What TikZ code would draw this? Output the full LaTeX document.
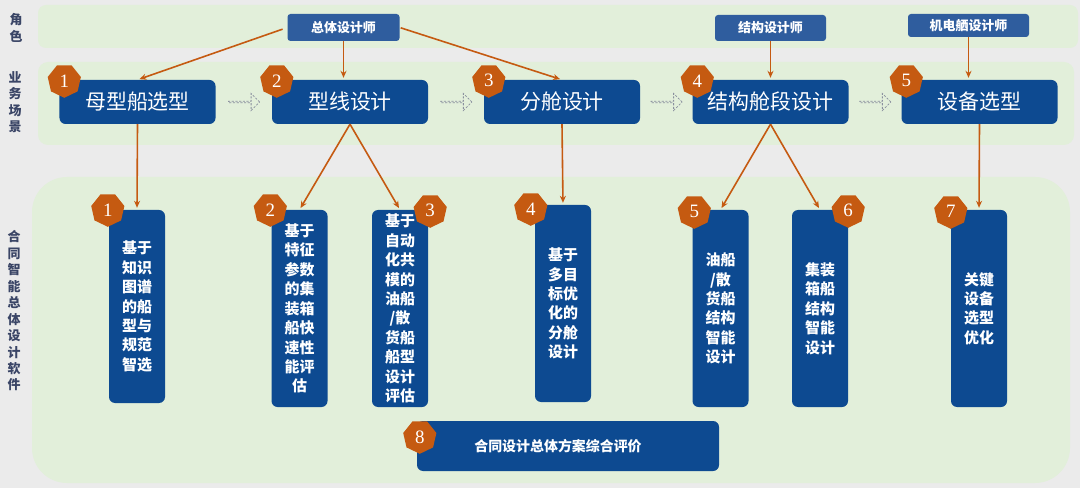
\documentclass[tikz,border=0pt]{standalone}
\usepackage{fontspec}
\newfontfamily\cjk{Noto Sans CJK SC}
\newfontfamily\numfont{Liberation Serif}
\usetikzlibrary{arrows.meta,shapes.geometric,shapes.arrows,calc}
\definecolor{bggray}{HTML}{EBEBEB}
\definecolor{bandgreen}{HTML}{E2EFDA}
\definecolor{boxblue}{HTML}{0D4A91}
\definecolor{roleblue}{HTML}{2F5D9E}
\definecolor{badgeorange}{HTML}{C55A11}
\definecolor{labelslate}{HTML}{3A4566}
\definecolor{dashgray}{HTML}{8A8F9E}
\tikzset{
  rolebox/.style={fill=roleblue, rounded corners=3bp, text=white, inner sep=0pt,
    font=\cjk\bfseries\fontsize{13}{15}\selectfont},
  scenebox/.style={fill=boxblue, rounded corners=6bp, text=white, inner sep=0pt,
    minimum width=156bp, minimum height=44bp, font=\cjk\fontsize{21}{24}\selectfont},
  softbox/.style={fill=boxblue, rounded corners=6bp, text=white, inner sep=0pt,
    minimum width=56bp, align=center, font=\cjk\bfseries\fontsize{15}{19.5}\selectfont},
  badge/.style={regular polygon, regular polygon sides=7, shape border rotate=180,
    fill=badgeorange, text=white, minimum size=34bp, inner sep=0pt,
    font=\numfont\fontsize{19}{19}\selectfont},
  flow/.style={-{Stealth[length=7bp,width=6bp]}, draw=badgeorange, line width=1.6bp,
    shorten >=2bp},
  nextstep/.style={single arrow, draw=dashgray, dash pattern=on 2.2bp off 1.5bp,
    line width=0.8bp, minimum height=31bp, minimum width=17bp,
    single arrow head extend=4bp, inner sep=0pt},
  sidelabel/.style={text=labelslate, align=center,
    font=\cjk\bfseries\fontsize{13}{16.5}\selectfont}
}
\begin{document}
\begin{tikzpicture}[x=1bp,y=-1bp]
    \useasboundingbox (0,0) rectangle (1080,488);
    \fill[bggray] (0,0) rectangle (1080,488);
    % bands
    \fill[bandgreen,rounded corners=8bp] (38,5) rectangle (1078,48);
    \fill[bandgreen,rounded corners=10bp] (38,62) rectangle (1074,145);
    \fill[bandgreen,rounded corners=35bp] (32,177) rectangle (1070,483);
    \node[sidelabel] (lrole) at (16,28) {角\\色};
    \node[sidelabel] (lscene) at (15,102) {业\\务\\场\\景};
    \node[sidelabel] (lsoft) at (14,311) {合\\同\\智\\能\\总\\体\\设\\计\\软\\件};
    % roles
    \node[rolebox,minimum width=112bp,minimum height=27bp] (zt) at (343.5,27.5) {总体设计师};
    \node[rolebox,minimum width=111bp,minimum height=26bp] (js) at (770.5,28) {结构设计师};
    \node[rolebox,minimum width=121bp,minimum height=23bp] (jd) at (968.5,25.5) {机电舾设计师};
    % scenes
    \node[scenebox] (m1) at (137.5,102) {母型船选型};
    \node[scenebox] (m2) at (350,102) {型线设计};
    \node[scenebox] (m3) at (562,102) {分舱设计};
    \node[scenebox] (m4) at (770.5,102) {结构舱段设计};
    \node[scenebox] (m5) at (979.5,102) {设备选型};
    \foreach \a/\b [count=\i] in {m1/m2,m2/m3,m3/m4,m4/m5}
        \node[nextstep] (n\i) at ($(\a.east)!0.5!(\b.west)$) {};
    \foreach \m [count=\i] in {m1,m2,m3,m4,m5}
        \node[badge] (mb\i) at ([shift={(5,1)}]\m.north west) {\i};
    % software
    \node[softbox,minimum height=193bp] (s1) at (137,306.5) {基于\\知识\\图谱\\的船\\型与\\规范\\智选};
    \node[softbox,minimum height=197bp] (s2) at (299.5,308.5) {基于\\特征\\参数\\的集\\装箱\\船快\\速性\\能评\\估};
    \node[softbox,minimum height=197bp] (s3) at (400,308.5) {基于\\自动\\化共\\模的\\油船\\/散\\货船\\船型\\设计\\评估};
    \node[softbox,minimum height=197bp] (s4) at (563,303.5) {基于\\多目\\标优\\化的\\分舱\\设计};
    \node[softbox,minimum height=197bp] (s5) at (720.5,308.5) {油船\\/散\\货船\\结构\\智能\\设计};
    \node[softbox,minimum height=197bp] (s6) at (820,308.5) {集装\\箱船\\结构\\智能\\设计};
    \node[softbox,minimum height=197bp] (s7) at (979,308.5) {关键\\设备\\选型\\优化};
    \node[softbox,minimum width=302bp,minimum height=50bp,font=\cjk\bfseries\fontsize{14}{16}\selectfont] (s8) at (568,446) {\hspace*{-20bp}合同设计总体方案综合评价};
    \node[badge] (sb1) at ([shift={(-1,0)}]s1.north west) {1};
    \node[badge] (sb2) at ([shift={(-1,0)}]s2.north west) {2};
    \node[badge] (sb3) at ([shift={(2,1)}]s3.north east) {3};
    \node[badge] (sb4) at ([shift={(-4,4)}]s4.north west) {4};
    \node[badge] (sb5) at ([shift={(2,2)}]s5.north west) {5};
    \node[badge] (sb6) at ([shift={(0,1)}]s6.north east) {6};
    \node[badge] (sb7) at ([shift={(0,2)}]s7.north west) {7};
    \node[badge] (sb8) at ([shift={(3,16)}]s8.north west) {8};
    % role arrows
    \draw[flow,shorten <=5bp] (zt.west) -- (m1.north);
    \draw[flow] (zt.south) -- (zt.south |- m2.north);
    \draw[flow,shorten <=1bp] (zt.east) -- (m3.north);
    \draw[flow] (js.south) -- (js.south |- m4.north);
    \draw[flow] (jd.south) -- (jd.south |- m5.north);
    % scene to software
    \draw[flow] (m1.south) -- (s1.north);
    \draw[flow] (m2.south) -- (s2.north);
    \draw[flow] (m2.south) -- (s3.north);
    \draw[flow] (m3.south) -- (s4.north);
    \draw[flow] (m4.south) -- (s5.north);
    \draw[flow] (m4.south) -- (s6.north);
    \draw[flow] (m5.south) -- (s7.north);
\end{tikzpicture}
\end{document}
